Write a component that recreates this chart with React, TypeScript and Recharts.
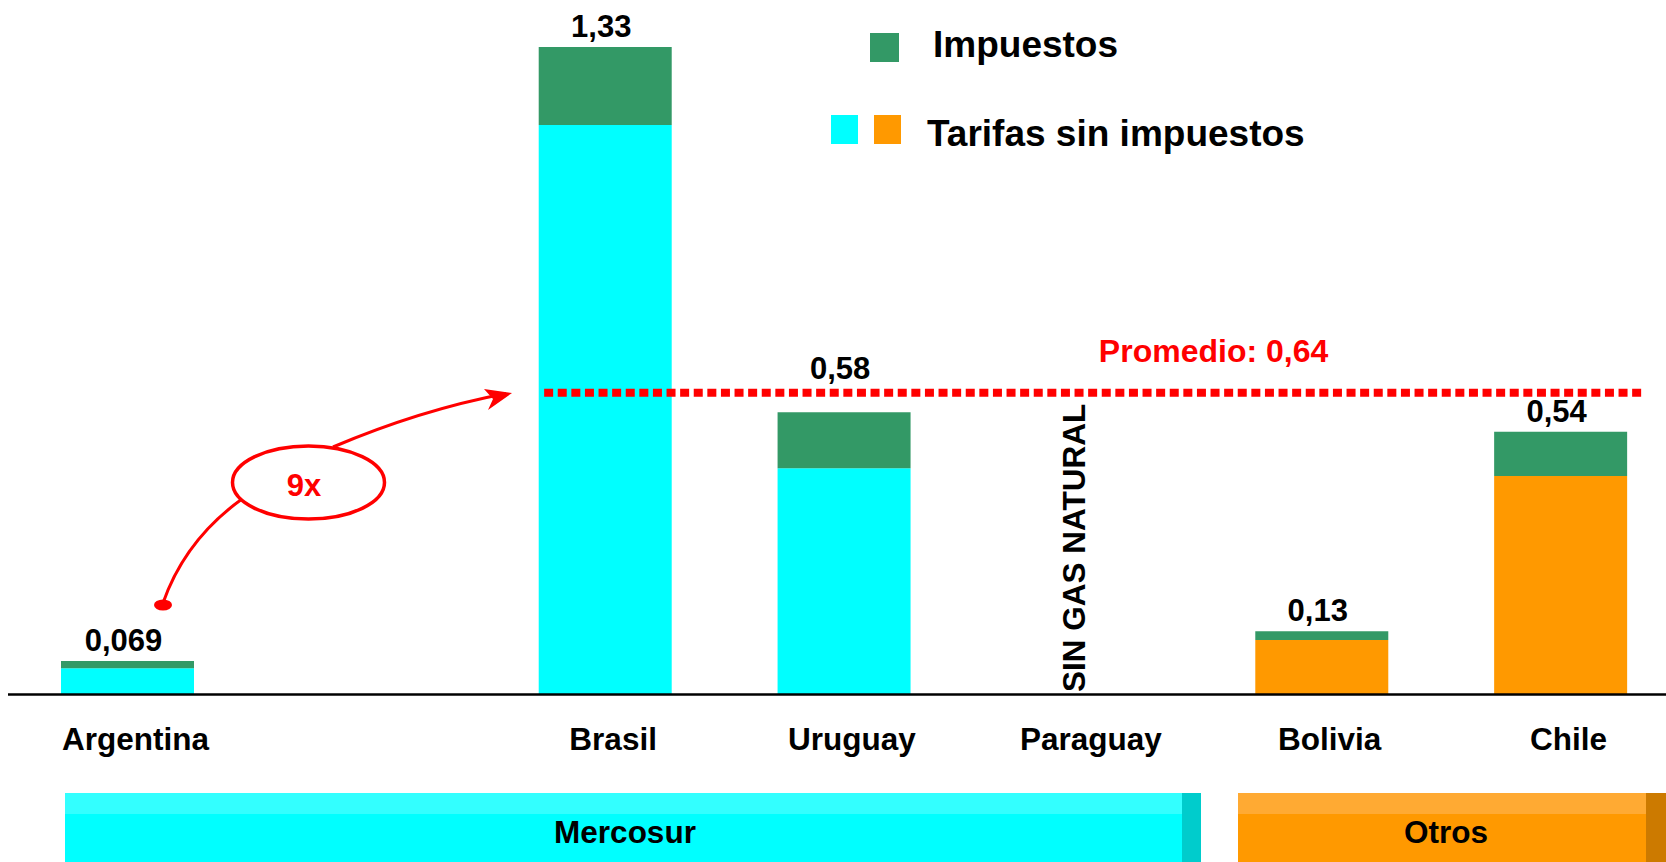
import React from 'react';
import { BarChart, Bar, XAxis, YAxis, Cell, LabelList, ReferenceLine } from 'recharts';

// values (US$/m3 style totals, split in base tariff + taxes)
const paises = ['Argentina', '', 'Brasil', 'Uruguay', 'Paraguay', 'Bolivia', 'Chile'];
const grupos = ['Mercosur', 'Mercosur', 'Mercosur', 'Mercosur', 'Mercosur', 'Otros', 'Otros'];
const tarifaSinImpuestos = [0.054, null, 1.17, 0.465, null, 0.112, 0.449];
const impuestos = [0.015, null, 0.16, 0.115, null, 0.018, 0.091];
const totales = [0.069, null, 1.33, 0.58, null, 0.13, 0.54];
const promedioLinea = 0.62;
const promedioTexto = 'Promedio: 0,64';

const FONT = '"Liberation Sans", Arial, sans-serif';
const CYAN = '#00FFFF';
const ORANGE = '#FF9900';
const GREEN = '#339966';
const RED = '#FF0000';

const data = paises.map((pais, i) => ({
  pais,
  grupo: grupos[i],
  base: tarifaSinImpuestos[i],
  impuesto: impuestos[i],
  etiqueta: totales[i] == null ? '' : String(totales[i]).replace('.', ','),
}));

const CategoryTick = (props: any) => {
  const { x, y, payload } = props;
  const name = payload?.value;
  if (!name) return null;
  return (
    <g>
      <text x={x + 8} y={y + 55} textAnchor="middle" fontFamily={FONT} fontWeight="bold" fontSize={31.5} fill="#000">
        {name}
      </text>
      {name === 'Paraguay' && (
        <text
          transform={`translate(${x + 2.5},${y - 2.5}) rotate(-90)`}
          textAnchor="start"
          fontFamily={FONT}
          fontWeight="bold"
          fontSize={31.5}
          fill="#000"
        >
          SIN GAS NATURAL
        </text>
      )}
    </g>
  );
};

const ValueLabel = (props: any) => {
  const { x, y, width, value } = props;
  if (value == null || value === '') return null;
  // Uruguay's label sits above the average line
  const row = data.find((d) => d.etiqueta === value);
  const lift = row && row.pais === 'Uruguay' ? 33 : 10;
  return (
    <text x={x + width / 2 - 4} y={y - lift} textAnchor="middle" fontFamily={FONT} fontWeight="bold" fontSize={31} fill="#000">
      {value}
    </text>
  );
};

// dotted average line, from the Brasil bar to past the Chile bar
const PromedioShape = (props: any) => {
  const { x1, x2, y1 } = props;
  const band = (x2 - x1) / paises.length;
  const start = x1 + 2.5 * band - 61;
  const end = x1 + 6.5 * band + 81;
  return (
    <g>
      <line x1={start} x2={end} y1={y1} y2={y1} stroke={RED} strokeWidth={8} strokeDasharray="9 4.6" />
      <text x={x1 + 4.5 * band + 16} y={y1 - 31} fontFamily={FONT} fontWeight="bold" fontSize={32} fill={RED}>
        {promedioTexto}
      </text>
    </g>
  );
};

const Overlay = () => (
  <svg width={1666} height={862} style={{ position: 'absolute', left: 0, top: 0, pointerEvents: 'none' }}>
    {/* legend */}
    <rect x={870} y={33} width={29} height={29} fill={GREEN} />
    <text x={933} y={57} fontFamily={FONT} fontWeight="bold" fontSize={37} fill="#000">Impuestos</text>
    <rect x={831} y={115} width={27} height={29} fill={CYAN} />
    <rect x={874} y={115} width={27} height={29} fill={ORANGE} />
    <text x={927} y={146} fontFamily={FONT} fontWeight="bold" fontSize={37} fill="#000">Tarifas sin impuestos</text>

    {/* 9x annotation */}
    <path d="M163,603 Q185,540 242,499" fill="none" stroke={RED} strokeWidth={3} />
    <path d="M333,447 Q420,410 506,393.5" fill="none" stroke={RED} strokeWidth={3} />
    <polygon points="512,393 484,389 493,399 488,410" fill={RED} />
    <ellipse cx={163} cy={605} rx={9} ry={5.5} fill={RED} />
    <ellipse cx={308.5} cy={482.5} rx={76} ry={36.5} fill="#fff" stroke={RED} strokeWidth={3.5} />
    <text x={304} y={496} textAnchor="middle" fontFamily={FONT} fontWeight="bold" fontSize={31} fill={RED}>9x</text>

    {/* group bands */}
    <rect x={65} y={793} width={1136} height={69} fill={CYAN} />
    <rect x={65} y={793} width={1117} height={21} fill="#33FFFF" />
    <rect x={1182} y={793} width={19} height={69} fill="#00CCCC" />
    <text x={625} y={843} textAnchor="middle" fontFamily={FONT} fontWeight="bold" fontSize={31.5} fill="#000">Mercosur</text>

    <rect x={1238} y={793} width={428} height={69} fill={ORANGE} />
    <rect x={1238} y={793} width={408} height={21} fill="#FFAA33" />
    <rect x={1646} y={793} width={20} height={69} fill="#CC7A00" />
    <text x={1446} y={843} textAnchor="middle" fontFamily={FONT} fontWeight="bold" fontSize={31.5} fill="#000">Otros</text>
  </svg>
);

export default function App() {
  return (
    <div style={{ position: 'absolute', left: 0, top: 0, width: 1666, height: 862, overflow: 'hidden', background: '#fff' }}>
      <BarChart width={1690} height={862} data={data} margin={{ top: 13, right: 10, bottom: 107.5, left: 8 }}>
        <XAxis
          dataKey="pais"
          interval={0}
          tickLine={false}
          tickSize={0}
          tickMargin={0}
          height={60}
          axisLine={{ stroke: '#000', strokeWidth: 2.5 }}
          tick={<CategoryTick />}
        />
        <YAxis hide width={0} domain={[0, 1.4]} />
        <Bar dataKey="base" stackId="s" barSize={133} isAnimationActive={false}>
          {data.map((d, i) => (
            <Cell key={i} fill={d.grupo === 'Otros' ? ORANGE : CYAN} />
          ))}
        </Bar>
        <Bar dataKey="impuesto" stackId="s" barSize={133} fill={GREEN} isAnimationActive={false}>
          <LabelList dataKey="etiqueta" content={<ValueLabel />} />
        </Bar>
        <ReferenceLine y={promedioLinea} shape={<PromedioShape />} ifOverflow="visible" />
      </BarChart>
      <Overlay />
    </div>
  );
}
